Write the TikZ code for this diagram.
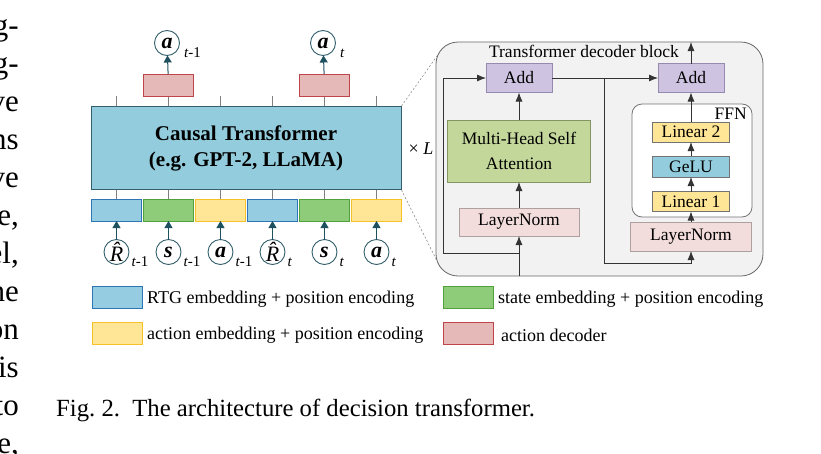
\documentclass[tikz,border=0pt]{standalone}
\usepackage{fontspec}
\setmainfont{Liberation Serif}
\usepackage{xcolor}
\usepackage{tikz}
\usetikzlibrary{arrows.meta,positioning}

\definecolor{mainfill}{RGB}{147,205,221}
\definecolor{mainline}{RGB}{52,96,110}
\definecolor{rtgfill}{RGB}{150,204,226}
\definecolor{rtgline}{RGB}{46,117,182}
\definecolor{statefill}{RGB}{143,204,122}
\definecolor{stateline}{RGB}{80,160,60}
\definecolor{actfill}{RGB}{255,229,150}
\definecolor{actline}{RGB}{245,192,40}
\definecolor{decfill}{RGB}{229,185,184}
\definecolor{decline}{RGB}{190,70,75}
\definecolor{addfill}{RGB}{206,196,226}
\definecolor{addline}{RGB}{150,138,175}
\definecolor{mhsafill}{RGB}{196,215,155}
\definecolor{mhsaline}{RGB}{130,150,100}
\definecolor{lnfill}{RGB}{242,221,220}
\definecolor{lnline}{RGB}{175,160,160}
\definecolor{blkfill}{RGB}{242,242,242}
\definecolor{arrowteal}{RGB}{30,80,95}

\begin{document}
\begin{tikzpicture}[x=1pt,y=-1pt,
  emb/.style={draw,line width=1pt,minimum width=50pt,minimum height=22pt,inner sep=0pt,outer sep=0pt},
  rtg/.style={emb,fill=rtgfill,draw=rtgline},
  state/.style={emb,fill=statefill,draw=stateline},
  act/.style={emb,fill=actfill,draw=actline},
  dec/.style={emb,fill=decfill,draw=decline},
  tok/.style={circle,draw=mainline,line width=0.9pt,fill=white,minimum size=25pt,inner sep=0pt,outer sep=0pt,font=\fontsize{22}{22}\selectfont},
  sub/.style={anchor=base west,inner sep=0pt,font=\fontsize{15}{15}\selectfont},
  tick/.style={draw=gray,line width=0.8pt},
  up/.style={draw=arrowteal,line width=1pt,-{Triangle[length=7pt,width=8pt]}},
  blkbox/.style={draw=gray,line width=0.8pt,inner sep=0pt,outer sep=0pt,align=center,font=\fontsize{17.5}{25}\selectfont},
  addbox/.style={blkbox,fill=addfill,draw=addline,minimum width=66pt,minimum height=29pt},
  linbox/.style={blkbox,fill=actfill,draw=gray!90!black,minimum width=77pt,minimum height=20pt},
  flow/.style={draw=black!80,line width=0.8pt,-{Latex[length=9pt,width=7pt]}},
  lgtxt/.style={inner sep=0pt,yshift=-2.5pt,font=\fontsize{18}{18}\selectfont}]
\useasboundingbox (0,0) rectangle (821,453);

% neighbouring column of the page
\foreach \w [count=\k] in {g-,g-,ve,ns,ve,{e,},{el,},he,on,is,to,{e,}}
  \node[anchor=base east,inner sep=0pt,font=\fontsize{31}{31}\selectfont] at (19,{35+38*(\k-1)}) {\w};

% causal transformer with tokens
\node[draw=mainline,fill=mainfill,line width=1pt,minimum width=310pt,minimum height=83pt,inner sep=0pt,align=center,font=\fontsize{21}{26}\bfseries] (main) at (246,148) {Causal Transformer\\(e.g. GPT-2, LLaMA)};
\foreach \s/\tok/\sb [count=\i from 0] in {
    rtg/{\itshape\^{R}}/{{\itshape t}-1},
    state/{\bfseries\itshape s}/{{\itshape t}-1},
    act/{\bfseries\itshape a}/{{\itshape t}-1},
    rtg/{\itshape\^{R}}/{\itshape t},
    state/{\bfseries\itshape s}/{\itshape t},
    act/{\bfseries\itshape a}/{\itshape t}}{
  \node[\s] (e\i) at ({116.5+52*\i},210) {};
  \node[tok] (x\i) at ({116.5+52*\i},252) {\tok};
  \node[sub] at ([xshift=15pt,yshift=-14pt]x\i.center) {\sb};
  \draw[up] (x\i) -- (e\i);
  \draw[tick] (main.south -| e\i) -- (e\i);
  \draw[tick] (main.north -| e\i) -- ++(0,-10);
}
\foreach \i/\j/\sb in {1/0/{{\itshape t}-1},4/1/{\itshape t}}{
  \node[dec] (d\j) at ({116.5+52*\i},85) {};
  \node[tok] (y\j) at ({115+52*\i},43) {\bfseries\itshape a};
  \node[sub] at ([xshift=17pt,yshift=-14pt]y\j.center) {\sb};
  \draw[up] (d\j) -- (y\j);
}
\node[font=\fontsize{18}{18}\selectfont] (rep) at (421,149) {× \textit{L}};

% decoder block
\node[draw=black!60,fill=blkfill,rounded corners=22pt,line width=0.8pt,minimum width=327pt,minimum height=234pt,inner sep=0pt] (blk) at (599.5,159) {};
\coordinate (bc1) at (442,49);
\coordinate (bc2) at (441,269);
\draw[gray,line width=0.5pt,dash pattern=on 2pt off 2pt] (main.north east) -- (bc1) (main.south east) -- (bc2);
\node[anchor=base,inner sep=0pt,font=\fontsize{17.5}{17.5}\selectfont] (ttl) at (584,57) {Transformer decoder block};
\node[draw=black!55,fill=white,rounded corners=10pt,line width=0.8pt,minimum width=120pt,minimum height=113pt,inner sep=0pt] (ffn) at (692,160.5) {};
\node[anchor=base east,inner sep=0pt,font=\fontsize{17.5}{17.5}\selectfont] (ffnl) at (747,119) {FFN};

\node[addbox] (add1) at (519,78) {Add};
\node[addbox] (add2) at (691,78) {Add};
\node[blkbox,fill=mhsafill,draw=mhsaline,minimum width=143pt,minimum height=62pt] (mhsa) at (519,151) {Multi-Head Self\\Attention};
\node[blkbox,fill=lnfill,draw=lnline,minimum width=120pt,minimum height=28pt] (ln1) at (519,222) {LayerNorm};
\node[linbox] (lin2) at (691,132) {Linear 2};
\node[linbox,fill=mainfill,minimum height=21pt] (gelu) at (691,166.5) {GeLU};
\node[linbox] (lin1) at (691,201.5) {Linear 1};
\node[blkbox,fill=lnfill,draw=lnline,minimum width=121pt,minimum height=29pt] (ln2) at (691,236.5) {LayerNorm};

\coordinate (in) at (519,276);
\coordinate (r1) at (519,253);
\coordinate (r2) at (443,253);
\coordinate (b1) at (604,78);
\coordinate (b2) at (604,263);
\coordinate (out) at (691,42);
\draw[flow] (in) -- (ln1);
\draw[flow] (ln1) -- (mhsa);
\draw[flow] (mhsa) -- (add1);
\draw[flow] (r1) -- (r2) |- (add1);
\draw[flow] (add1) -- (add2);
\draw[flow] (b1) -- (b2) -| (ln2);
\draw[flow] (ln2) -- (lin1);
\draw[flow] (lin1) -- (gelu);
\draw[flow] (gelu) -- (lin2);
\draw[flow] (lin2) -- (add2);
\draw[flow] (add2) -- (out);

% legend
\node[rtg] (lgR) at (117,297) {};
\node[lgtxt,right=5pt of lgR] {RTG embedding + position encoding};
\node[state] (lgS) at (468,297) {};
\node[lgtxt,right=5pt of lgS] {state embedding + position encoding};
\node[act] (lgA) at (117,333) {};
\node[lgtxt,right=5pt of lgA] {action embedding + position encoding};
\node[dec] (lgD) at (468,333) {};
\node[lgtxt,right=8pt of lgD] {action decoder};

\node[anchor=base west,inner sep=0pt,font=\fontsize{24.7}{24.7}\selectfont] (cap) at (56,416) {Fig.~2.\enspace The architecture of decision transformer.};
\end{tikzpicture}
\end{document}
